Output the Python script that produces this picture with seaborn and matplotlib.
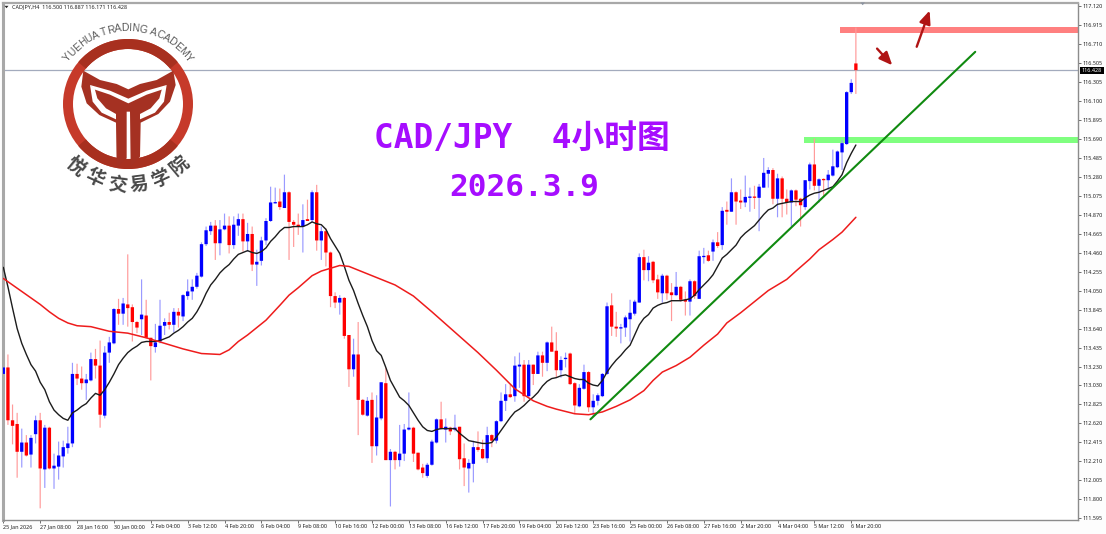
import numpy as np
import matplotlib
matplotlib.use("Agg")
import matplotlib.pyplot as plt
from matplotlib.patches import Polygon, Wedge, Rectangle
import seaborn as sns

# ---- candle data (price) -------------------------------------------------
directions = ("BRRRBRBBRB" "RBBBBBRRBB" "RRBBBRBRRR" "BRRBBBRBRB" "BBBBBBRBBR"
              "BBRBRBBBBB" "RBRRRBRBRB" "RRRBRRBRRB" "RBBRBRBBBR" "RRBBBRBRBR"
              "RBBRRBRBBB" "RBBRBRBRBR" "RBBRRBBRBB" "BBRRBBBBBR" "BRRBRRBRRB"
              "RBBRBRBRBR" "RBBRBBBRBR" "RBRRBBRBRB" "BBBBBR")
highs = [113.25,113.36,112.82,112.73,112.56,112.49,112.49,112.70,112.73,112.60,
         112.58,112.29,112.42,112.43,112.58,113.27,113.26,113.23,113.15,113.38,
         113.42,113.51,113.45,113.55,113.86,113.96,113.97,114.44,113.90,113.72,
         114.17,113.95,113.54,113.69,113.95,113.75,113.81,113.86,113.86,114.01,
         114.17,114.17,114.24,114.57,114.74,114.79,114.81,114.81,114.88,114.85,
         114.85,114.88,114.88,114.78,114.74,114.49,114.63,114.83,115.17,115.16,
         115.15,115.30,115.12,114.81,114.88,114.98,115.03,115.13,115.19,114.74,
         114.72,114.47,114.03,114.00,113.98,113.57,113.53,113.71,112.88,112.90,
         112.95,112.92,113.06,113.21,112.34,112.32,112.60,112.61,112.95,112.58,
         112.30,112.18,112.19,112.44,112.67,112.85,112.67,112.58,112.71,112.58,
         112.40,112.23,112.43,112.53,112.44,112.58,112.50,112.65,112.95,113.04,
         113.03,113.34,113.38,113.30,113.30,113.25,113.39,113.39,113.50,113.66,
         113.60,113.34,113.38,113.38,113.06,113.04,113.25,113.18,112.93,112.94,
         113.16,113.92,114.02,113.82,113.69,113.78,113.95,113.95,114.45,114.49,
         114.42,114.37,114.22,114.23,114.22,114.13,114.25,114.10,114.04,114.17,
         114.16,114.48,114.51,114.48,114.60,114.68,114.95,115.01,115.26,115.12,
         115.14,115.29,115.16,115.18,115.20,115.48,115.38,115.37,115.31,115.28,
         115.14,115.14,115.14,115.05,115.24,115.43,115.69,115.26,115.26,115.35,
         115.57,115.56,115.67,116.20,116.33,116.887]
body_tops = [113.22,113.22,112.65,112.61,112.41,112.41,112.46,112.65,112.65,112.57,
         112.57,112.16,112.27,112.36,112.40,113.15,113.15,113.10,113.09,113.31,
         113.31,113.24,113.38,113.49,113.85,113.85,113.91,113.90,113.87,113.71,
         113.79,113.78,113.54,113.49,113.67,113.71,113.71,113.82,113.82,114.00,
         114.04,114.09,114.21,114.55,114.70,114.75,114.75,114.71,114.75,114.75,
         114.76,114.82,114.82,114.66,114.66,114.36,114.59,114.80,115.00,115.00,
         115.01,115.11,115.11,114.79,114.76,114.81,114.82,115.11,115.11,114.69,
         114.69,114.46,113.99,113.97,113.97,113.57,113.36,113.36,112.87,112.86,
         112.87,112.68,113.06,113.05,112.31,112.31,112.29,112.55,112.57,112.57,
         112.30,112.14,112.17,112.42,112.66,112.66,112.58,112.57,112.57,112.58,
         112.24,112.19,112.36,112.36,112.34,112.49,112.49,112.64,112.86,112.93,
         112.93,113.24,113.25,113.25,113.25,113.25,113.35,113.35,113.49,113.49,
         113.40,113.30,113.32,113.37,113.05,113.00,113.17,113.17,112.86,112.92,
         113.15,113.88,113.89,113.66,113.65,113.76,113.81,113.93,114.41,114.41,
         114.35,114.36,114.17,114.21,114.21,114.03,114.09,114.09,113.95,114.15,
         114.15,114.42,114.42,114.43,114.57,114.57,114.91,114.92,115.11,115.11,
         115.02,115.06,115.06,115.06,115.17,115.32,115.35,115.35,115.26,115.26,
         115.04,115.13,115.13,115.04,115.24,115.41,115.41,115.25,115.25,115.30,
         115.39,115.55,115.64,116.19,116.29,116.500]
body_bottoms = [113.15,112.65,112.59,112.31,112.31,112.27,112.28,112.50,112.13,112.12,
         112.13,112.13,112.15,112.26,112.35,112.40,113.10,113.05,113.05,113.08,
         113.24,112.71,112.70,113.38,113.48,113.80,113.80,113.86,113.71,113.65,
         113.74,113.54,113.45,113.44,113.50,113.67,113.68,113.68,113.78,113.77,
         113.99,114.04,114.09,114.20,114.55,114.69,114.56,114.56,114.71,114.54,
         114.54,114.75,114.58,114.58,114.33,114.33,114.37,114.59,114.80,114.99,
         114.95,114.94,114.79,114.76,114.74,114.74,114.80,114.81,114.59,114.59,
         114.46,113.99,113.92,113.92,113.56,113.20,113.20,112.87,112.71,112.70,
         112.37,112.37,112.67,112.22,112.22,112.22,112.22,112.29,112.55,112.29,
         112.12,112.08,112.05,112.17,112.41,112.56,112.55,112.53,112.55,112.23,
         112.14,112.13,112.18,112.33,112.24,112.24,112.43,112.43,112.64,112.86,
         112.90,112.91,113.23,112.91,112.91,113.15,113.15,113.27,113.27,113.39,
         113.19,113.19,113.31,113.04,112.81,112.80,112.99,112.79,112.79,112.86,
         112.91,113.15,113.66,113.64,113.64,113.65,113.74,113.80,113.92,114.27,
         114.27,114.16,114.03,114.02,114.02,114.00,114.00,113.95,113.93,113.93,
         113.99,113.96,114.41,114.37,114.47,114.53,114.54,114.90,114.90,115.01,
         115.00,115.00,115.05,115.05,115.05,115.16,115.31,115.04,115.04,115.04,
         115.00,115.00,115.03,114.97,114.95,115.23,115.18,115.18,115.24,115.24,
         115.29,115.38,115.54,115.63,116.19,116.428]
lows = [112.55,112.60,112.39,112.03,112.14,112.26,112.14,112.40,111.70,111.92,
         112.12,111.91,112.01,112.14,112.29,112.36,113.03,112.98,112.87,113.07,
         113.10,112.57,112.67,113.27,113.47,113.68,113.68,113.66,113.50,113.59,
         113.57,113.53,113.08,113.38,113.48,113.57,113.63,113.60,113.65,113.72,
         113.95,113.95,114.07,114.19,114.53,114.65,114.38,114.43,114.70,114.45,
         114.50,114.64,114.47,114.47,114.26,114.10,114.32,114.54,114.79,114.99,
         114.92,114.94,114.38,114.52,114.65,114.46,114.80,114.79,114.48,114.38,
         114.31,113.87,113.86,113.79,113.53,113.01,113.12,112.49,112.70,112.69,
         112.19,112.27,112.65,112.22,111.72,112.12,112.15,112.21,112.54,112.20,
         112.11,112.03,112.03,112.16,112.40,112.55,112.41,112.49,112.53,112.12,
         111.94,111.87,111.98,112.31,112.23,112.19,112.36,112.40,112.63,112.75,
         112.89,112.85,113.00,112.85,112.90,113.03,113.15,113.12,113.18,113.39,
         113.11,113.11,113.22,113.03,112.72,112.79,112.98,112.74,112.69,112.81,
         112.90,113.14,113.56,113.55,113.48,113.55,113.50,113.78,113.92,114.16,
         114.15,114.13,113.96,113.92,113.95,113.72,113.99,113.93,113.78,113.78,
         113.96,113.96,114.34,114.36,114.37,114.51,114.49,114.76,114.90,114.76,
         114.93,114.95,114.90,114.93,114.69,115.16,115.16,114.98,114.84,114.84,
         114.87,114.74,114.96,114.74,114.92,115.14,115.13,115.00,115.07,115.14,
         115.28,115.37,115.35,115.62,116.17,116.171]

black_ma = [114.30,114.09,113.86,113.64,113.48,113.36,113.25,113.18,113.06,112.98,
         112.85,112.76,112.71,112.67,112.65,112.73,112.76,112.80,112.83,112.89,
         112.94,112.92,112.98,113.06,113.15,113.25,113.32,113.38,113.42,113.45,
         113.49,113.50,113.50,113.50,113.51,113.53,113.55,113.59,113.62,113.66,
         113.71,113.75,113.82,113.91,114.02,114.11,114.17,114.24,114.29,114.33,
         114.39,114.44,114.46,114.48,114.46,114.45,114.47,114.51,114.58,114.63,
         114.69,114.73,114.73,114.74,114.74,114.74,114.76,114.79,114.77,114.76,
         114.71,114.61,114.53,114.45,114.31,114.16,114.05,113.91,113.78,113.66,
         113.51,113.40,113.35,113.22,113.08,112.99,112.90,112.86,112.81,112.73,
         112.65,112.58,112.54,112.53,112.55,112.56,112.56,112.56,112.56,112.51,
         112.47,112.43,112.42,112.41,112.40,112.40,112.41,112.47,112.54,112.61,
         112.68,112.74,112.77,112.81,112.86,112.90,112.95,113.02,113.07,113.10,
         113.11,113.13,113.14,113.12,113.10,113.09,113.09,113.05,113.03,113.02,
         113.08,113.17,113.24,113.30,113.35,113.41,113.46,113.57,113.68,113.75,
         113.79,113.86,113.89,113.91,113.92,113.94,113.94,113.94,113.95,113.96,
         114.00,114.06,114.11,114.16,114.22,114.31,114.40,114.44,114.49,114.54,
         114.62,114.67,114.71,114.75,114.81,114.87,114.92,114.94,114.98,114.99,
         115.00,115.01,115.01,115.01,115.05,115.08,115.10,115.11,115.13,115.15,
         115.17,115.23,115.30,115.43,115.53,115.62]

red_ma_bars = [0,2,4,6,8,10,12,14,16,19,23,27,31,35,39,43,47,49,51,53,55,57,60,62,64,67,69,71,73,75,78,81,85,89,93,98,
               103,107,111,115,118,120,124,127,130,133,136,139,141,143,146,149,152,155,157,160,162,166,170,172,175,177,180,182,185]
red_ma = [114.18,114.11,114.04,113.97,113.90,113.82,113.75,113.70,113.67,113.66,113.61,113.59,113.54,113.48,113.42,113.37,113.36,113.41,113.50,113.57,
          113.65,113.73,113.89,114.00,114.08,114.21,114.26,114.29,114.32,114.31,114.25,114.19,114.11,113.99,113.82,113.60,113.38,113.19,112.99,112.86,
          112.80,112.77,112.72,112.71,112.74,112.80,112.87,112.97,113.08,113.17,113.24,113.33,113.46,113.58,113.70,113.81,113.89,114.05,114.17,114.26,
          114.39,114.49,114.60,114.68,114.84]

date_labels = ["25 Jan 2026","27 Jan 08:00","28 Jan 16:00","30 Jan 00:00","2 Feb 04:00","3 Feb 12:00",
               "4 Feb 20:00","6 Feb 04:00","9 Feb 08:00","10 Feb 16:00","12 Feb 00:00","13 Feb 08:00",
               "16 Feb 12:00","17 Feb 20:00","19 Feb 04:00","20 Feb 12:00","23 Feb 16:00","25 Feb 00:00",
               "26 Feb 08:00","27 Feb 16:00","2 Mar 20:00","4 Mar 04:00","5 Mar 12:00","6 Mar 20:00"]
price_ticks = [117.120,116.915,116.710,116.505,116.305,116.100,115.895,115.690,115.485,115.280,115.075,
               114.870,114.665,114.460,114.255,114.050,113.845,113.640,113.435,113.230,113.030,112.825,
               112.620,112.415,112.210,112.005,111.800,111.595]
last_price = 116.428
resistance_band = (116.832, 116.897)
support_band = (115.64, 115.71)
trend_start = (127.4, 112.66)
trend_end = (210.9, 116.625)

# ---- figure ---------------------------------------------------------------
sns.set_theme(style="white")
plt.rcParams['font.family'] = ['Noto Sans', 'DejaVu Sans']
W, H = 1106, 534
fig = plt.figure(figsize=(W/100, H/100), dpi=100, facecolor="#fdfdfd")
ax = fig.add_axes([3/W, 1-520/H, (1078-3)/W, (520-3)/H])
ax.set_facecolor("white")
ax.set_xlim(-0.07, 233.2)
ax.set_ylim(111.574, 117.152)

n = len(highs)
xs = np.arange(n)
cols = {"B": "#0000ff", "R": "#ff0000"}
wick = {"B": "#9a9aff", "R": "#ff9a9a"}
ax.vlines(xs, lows, highs, colors=[wick[d] for d in directions], lw=0.85, zorder=2, snap=False)
ax.bar(xs, np.maximum(np.array(body_tops)-np.array(body_bottoms), 0.014), bottom=body_bottoms,
       width=0.72, color=[cols[d] for d in directions], linewidth=0, zorder=3, snap=False)

ax.axhspan(*resistance_band, xmin=(840-3)/1075, xmax=1, color="#ff8080", lw=0, zorder=1)
ax.axhspan(*support_band, xmin=(804-3)/1075, xmax=1, color="#80ff80", lw=0, zorder=1)
ax.axhline(last_price, color="#a3abbd", lw=0.9, zorder=1.5)

sns.lineplot(x=xs, y=black_ma, ax=ax, color="#1c1c1c", lw=1.0, zorder=5, legend=False, errorbar=None,
             solid_joinstyle="round")
sns.lineplot(x=red_ma_bars, y=red_ma, ax=ax, color="#ee1c1c", lw=1.1, zorder=5, legend=False, errorbar=None,
             solid_joinstyle="round")
ax.plot([trend_start[0], trend_end[0]], [trend_start[1], trend_end[1]], color="#108a10", lw=1.5, zorder=6)

arrow_style = dict(arrowstyle="-|>,head_width=0.28,head_length=0.65", color="#b01414", lw=1.7, shrinkA=0, shrinkB=0)
ax.annotate("", xy=(201.0, 117.07), xytext=(198.2, 116.68), arrowprops=arrow_style, zorder=7)
ax.annotate("", xy=(192.9, 116.48), xytext=(189.6, 116.66), arrowprops=arrow_style, zorder=7)

# axes
for s in ax.spines.values():
    s.set_color("#8c8c8c"); s.set_linewidth(1.0)
ax.spines["left"].set_linewidth(2.2); ax.spines["left"].set_color("#a8a8a8")
ax.spines["top"].set_linewidth(1.6); ax.spines["top"].set_color("#a8a8a8")
ax.yaxis.tick_right()
ax.set_yticks(price_ticks)
ax.set_yticklabels([f"{p:.3f}" for p in price_ticks])
ax.set_xticks(np.arange(len(date_labels))*8)
ax.set_xticklabels(date_labels, ha="left")
ax.tick_params(axis="y", length=2, width=0.6, color="#555555", pad=1.5, labelsize=3.9, labelcolor="#222222", right=True)
ax.tick_params(axis="x", length=2, width=0.6, color="#555555", pad=1.0, labelsize=3.9, labelcolor="#222222", bottom=True)
ax.grid(False)

# overlay in figure pixels
ov = fig.add_axes([0, 0, 1, 1], facecolor="none", zorder=10)
ov.set_xlim(0, W); ov.set_ylim(H, 0); ov.axis("off")

ov.text(12, 7, "CADJPY,H4  116.500 116.887 116.171 116.428", fontsize=3.9, color="#222222", va="center", ha="left")
ov.add_patch(Polygon([(4.5, 5.8), (8.5, 5.8), (6.5, 8.2)], color="#222222", lw=0))
ov.add_patch(Polygon([(860.5, 2.5), (865, 2.5), (862.7, 5.2)], color="#8a92a0", lw=0))
ov.add_patch(Rectangle((1080, 67.3), 23.5, 6.4, color="black", lw=0))
ov.text(1091.7, 70.5, f"{last_price:.3f}", fontsize=3.9, color="white", va="center", ha="center")

purple = "#a60dff"
ov.text(374, 135, "CAD/JPY  4小时图", fontsize=23.6, color=purple, weight="bold",
        family=["DejaVu Sans Mono", "Noto Sans CJK SC"], va="center_baseline", ha="left")
ov.text(449, 184, "2026.3.9", fontsize=22.4, color=purple, weight="bold",
        family=["DejaVu Sans Mono", "Noto Sans CJK SC"], va="center_baseline", ha="left")

# logo
cx, cy = 128, 104
ov.add_patch(Wedge((cx, cy), 65, 0, 360, width=10, color="#c63a2a", lw=0))
ov.add_patch(Wedge((cx, cy), 65, 40, 140, width=10, color="#a8301f", lw=0))
ov.add_patch(Wedge((cx, cy), 65, 220, 320, width=10, color="#a8301f", lw=0))
dark = "#a53122"
z = lambda pts: [(a/3, b/3) for a, b in pts]
tail = z([(250,212),(300,240),(350,252),(385,268),(420,252),(470,240),(520,212),(527,255),(510,305),(475,342),
          (422,368),(420,470),(392,502),(390,335),(380,335),(380,475),(350,502),(348,368),(298,345),(260,310),(244,260)])
ov.add_patch(Polygon(tail, closed=True, color=dark, lw=0))
ov.add_patch(Polygon(z([(270,255),(330,272),(385,296),(440,272),(500,255),(488,268),(440,284),(385,310),(330,284),(282,268)]), color="white", lw=0))
ov.add_patch(Polygon(z([(270,255),(284,266),(292,295),(318,325),(348,342),(348,358),(305,338),(278,305)]), color="white", lw=0))
ov.add_patch(Polygon(z([(500,255),(486,266),(478,295),(452,325),(420,342),(420,358),(465,338),(492,305)]), color="white", lw=0))

ring_text = "YUEHUA TRADING ACADEMY"
letter_widths = {" ": 0.30, "I": 0.30, "Y": 0.66, "T": 0.60, "M": 0.83, "G": 0.78, "E": 0.66, "A": 0.67}
advance = np.array([letter_widths.get(c, 0.72) for c in ring_text])
centers = np.cumsum(advance) - advance/2
angles = -55 + 110*centers/advance.sum()
for ch, a in zip(ring_text, angles):
    r = np.deg2rad(a)
    ov.text(cx+76*np.sin(r), cy-76*np.cos(r), ch, fontsize=7.5, color="#5a5a5a", family="Liberation Sans",
            rotation=-a, rotation_mode="anchor", ha="center", va="center")
for ch, a in zip("悦华交易学院", [40, 24.3, 7.5, -7.5, -24.3, -40]):
    r = np.deg2rad(a)
    ov.text(cx-81*np.sin(r), cy+81*np.cos(r), ch, fontsize=13.5, color="#484848", weight="bold",
            family="Noto Sans CJK SC", rotation=-a, rotation_mode="anchor", ha="center", va="center")

fig.savefig("out.png", dpi=100, facecolor=fig.get_facecolor())
